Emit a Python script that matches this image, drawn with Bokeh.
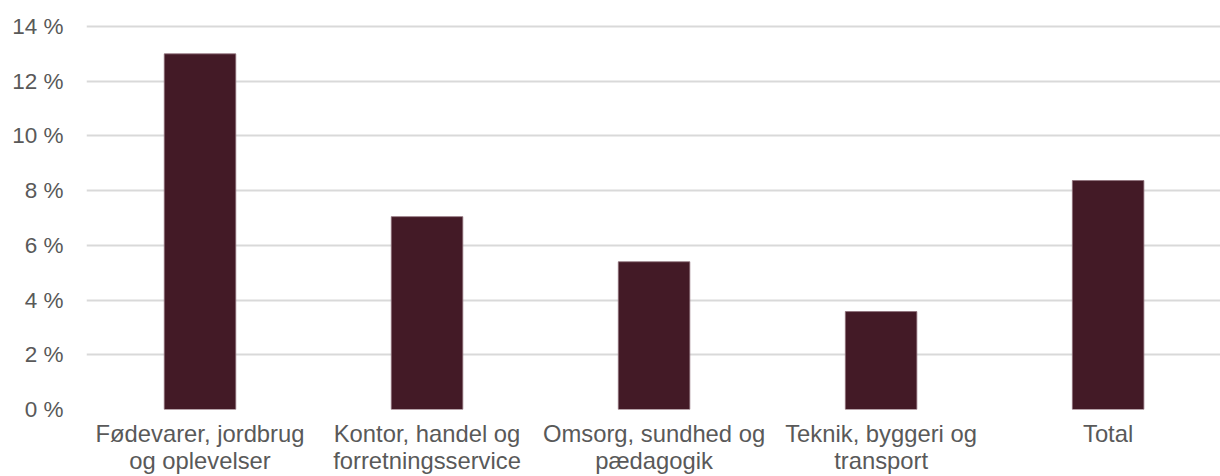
from bokeh.plotting import figure
from bokeh.models import Range1d, FixedTicker
from bokeh.embed import file_html
from bokeh.resources import INLINE

categories = ["Fødevarer, jordbrug\nog oplevelser",
              "Kontor, handel og\nforretningsservice",
              "Omsorg, sundhed og\npædagogik",
              "Teknik, byggeri og\ntransport",
              "Total"]
values = [13.0, 7.05, 5.4, 3.58, 8.37]
y_ticks = [0, 2, 4, 6, 8, 10, 12, 14]
y_tick_labels = ["0 %", "2 %", "4 %", "6 %", "8 %", "10 %", "12 %", "14 %"]

x = list(range(len(categories)))

p = figure(width=1220, height=476, output_backend="svg", toolbar_location=None,
           x_range=Range1d(-0.5, 4.495), y_range=Range1d(0, 14.22),
           min_border_left=86, min_border_right=0, min_border_top=20, min_border_bottom=60)
p.outline_line_color = None
p.background_fill_color = "white"
p.border_fill_color = "white"

p.vbar(x=x, top=values, width=0.315, bottom=0, fill_color="#431A26",
       line_color="#8E6F78", line_width=0.8)

font = "Liberation Sans"
p.yaxis.ticker = FixedTicker(ticks=y_ticks)
p.yaxis.major_label_overrides = {t: l for t, l in zip(y_ticks, y_tick_labels)}
p.yaxis.axis_line_color = None
p.yaxis.major_tick_line_color = None
p.yaxis.minor_tick_line_color = None
p.yaxis.major_label_standoff = 17
p.yaxis.major_label_text_font = font
p.yaxis.major_label_text_font_size = "22.5px"
p.yaxis.major_label_text_color = "#595959"

p.xaxis.ticker = FixedTicker(ticks=x)
p.xaxis.major_label_overrides = {i: c for i, c in zip(x, categories)}
p.xaxis.axis_line_color = None
p.xaxis.major_tick_line_color = None
p.xaxis.minor_tick_line_color = None
p.xaxis.major_label_standoff = 4
p.xaxis.major_label_text_font = font
p.xaxis.major_label_text_font_size = "23.8px"
p.xaxis.major_label_text_color = "#595959"
p.xaxis.major_label_text_line_height = 1.0

p.xgrid.grid_line_color = None
p.ygrid.ticker = FixedTicker(ticks=y_ticks)
p.ygrid.grid_line_color = "#D9D9D9"
p.ygrid.grid_line_width = 2
p.ygrid.level = "underlay"

open("out.html", "w").write(file_html(p, INLINE))
